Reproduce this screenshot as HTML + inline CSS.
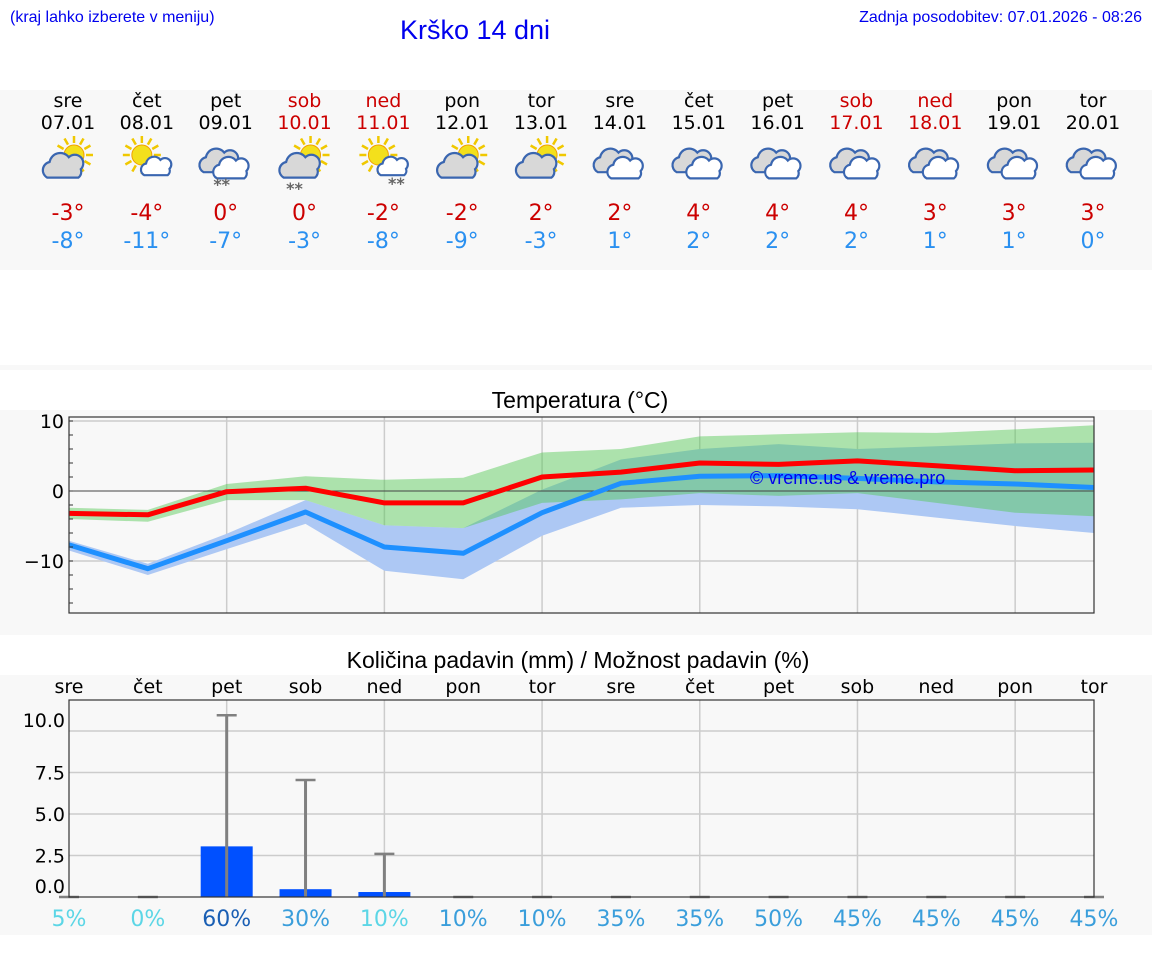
<!DOCTYPE html>
<html><head><meta charset="utf-8"><style>
body{margin:0;background:#fff;width:1152px;height:975px;overflow:hidden;font-family:"DejaVu Sans","Liberation Sans",sans-serif;}
svg{position:absolute;left:0;top:0}
</style></head><body>
<svg id="s" width="1152" height="975" xmlns="http://www.w3.org/2000/svg">
<text x="10" y="22" font-family="Liberation Sans,sans-serif" font-size="16" fill="#0000ee">(kraj lahko izberete v meniju)</text>
<text x="475" y="39" text-anchor="middle" font-family="Liberation Sans,sans-serif" font-size="27" fill="#0000ee">Krško 14 dni</text>
<text x="1142" y="22" text-anchor="end" font-family="Liberation Sans,sans-serif" font-size="16" fill="#0000ee">Zadnja posodobitev: 07.01.2026 - 08:26</text>
<rect x="0" y="90" width="1152" height="180" fill="#f8f8f8"/>
<rect x="0" y="365" width="1152" height="5" fill="#f8f8f8"/>
<rect x="0" y="410" width="1152" height="225" fill="#f8f8f8"/>
<rect x="0" y="675" width="1152" height="260" fill="#f8f8f8"/>
<text x="580" y="408" text-anchor="middle" font-size="23" font-family="Liberation Sans,sans-serif" fill="#000">Temperatura (°C)</text>
<text x="578" y="668" text-anchor="middle" font-size="23" font-family="Liberation Sans,sans-serif" fill="#000">Količina padavin (mm) / Možnost padavin (%)</text>
<g id="topg"></g><g id="temp"></g><g id="prec"></g>
</svg>
<script>
const days=["sre","čet","pet","sob","ned","pon","tor","sre","čet","pet","sob","ned","pon","tor"];
const dates=["07.01","08.01","09.01","10.01","11.01","12.01","13.01","14.01","15.01","16.01","17.01","18.01","19.01","20.01"];
const weekend=[0,0,0,1,1,0,0,0,0,0,1,1,0,0];
const icons=["sc","ss","cs","scs","sss","sc","sc","c","c","c","c","c","c","c"];
const dayMax=[-3,-4,0,0,-2,-2,2,2,4,4,4,3,3,3];
const dayMin=[-8,-11,-7,-3,-8,-9,-3,1,2,2,2,1,1,0];
const tMax=[-3.2,-3.4,-0.1,0.4,-1.7,-1.7,2.0,2.7,4.0,3.8,4.3,3.6,2.9,3.0];
const tMaxHi=[-2.4,-2.7,1.0,2.1,1.6,1.9,5.5,6.0,7.8,8.1,8.4,8.3,8.8,9.4];
const tMaxLo=[-4.0,-4.4,-1.3,-1.3,-4.9,-5.3,-1.7,-1.2,-0.3,-0.7,-0.3,-1.7,-3.1,-3.6];
const tMin=[-7.7,-11.1,-7.1,-3.0,-8.0,-8.9,-3.1,1.1,2.1,2.2,1.8,1.3,1.0,0.5];
const tMinHi=[-7.1,-10.4,-6.1,-1.3,-4.9,-5.3,0.2,4.5,6.0,6.7,6.0,6.4,6.8,6.9];
const tMinLo=[-8.5,-12.0,-8.3,-4.7,-11.4,-12.6,-6.4,-2.4,-2.0,-2.2,-2.6,-3.8,-5.0,-6.0];
const tempTicks=[10,0,-10];
const precip=[0,0,3.05,0.47,0.3,0,0,0,0,0,0,0,0,0];
const precipMax=[0,0,10.95,7.05,2.6,0,0,0,0,0,0,0,0,0];
const chance=[5,0,60,30,10,10,10,35,35,50,45,45,45,45];
const chanceColor=["#5cd6e6","#5cd6e6","#1a5fb4","#3a9edb","#5cd6e6","#3a9edb","#3a9edb","#3a9edb","#3a9edb","#3a9edb","#3a9edb","#3a9edb","#3a9edb","#3a9edb"];
const precipTicks=[10,7.5,5,2.5,0];

const NS="http://www.w3.org/2000/svg";
function mk(p,tag,attrs,txt){const e=document.createElementNS(NS,tag);for(const k in attrs)e.setAttribute(k,attrs[k]);if(txt!==undefined)e.textContent=txt;p.appendChild(e);return e;}
const X0=69,X1=1094;
const xAt=i=>X0+(X1-X0)*i/13;
const yT=v=>491-7*v;
const yP=v=>897-16.6*v;

// top panel
const topG=document.getElementById('topg');
function sun(g,cx,cy,r){for(let a=0;a<12;a++){const an=a*Math.PI/6;mk(g,'line',{x1:cx+Math.cos(an)*(r+2),y1:cy+Math.sin(an)*(r+2),x2:cx+Math.cos(an)*(r+9),y2:cy+Math.sin(an)*(r+9),stroke:'#f0c800','stroke-width':2.5});}
mk(g,'circle',{cx:cx,cy:cy,r:r,fill:'#f3e01c',stroke:'#f0a000','stroke-width':1});}
function cloud(g,cx,cy,s,fill){const d=`M${cx-14*s},${cy+8*s} a${7*s},${7*s} 0 0 1 ${2*s},${-13*s} a${9*s},${9*s} 0 0 1 ${16*s},${-4*s} a${7*s},${7*s} 0 0 1 ${10*s},${10*s} a${6*s},${6*s} 0 0 1 ${-2*s},${7*s} z`;
mk(g,'path',{d:d,fill:fill,stroke:'#3a66b0','stroke-width':2.2});}
function snow(g,cx,cy){mk(g,'text',{x:cx,y:cy,'font-size':16,fill:'#666','text-anchor':'middle','font-weight':'bold'},'**');}
for(let i=0;i<14;i++){const x=xAt(i)-1;const col=weekend[i]?'#cc0000':'#000';
const g=mk(topG,'g',{});


mk(g,'text',{x:x,y:107,'text-anchor':'middle','font-size':19,fill:col},days[i]);
mk(g,'text',{x:x,y:129,'text-anchor':'middle','font-size':19,fill:col},dates[i]);
const ic=mk(g,'g',{});


const t=icons[i];
if(t==='sc'||t==='scs'){sun(ic,x+6,155,10);cloud(ic,x-4,168,1.2,'#d8d8d8');if(t==='scs')snow(ic,x-10,194);}
else if(t==='ss'||t==='sss'){sun(ic,x-5,155,10);cloud(ic,x+10,168,0.9,'#fff');if(t==='sss')snow(ic,x+13,189);}
else {cloud(ic,x-6,163,1.15,'#d8d8d8');cloud(ic,x+6,170,1.05,'#fff');if(t==='cs')snow(ic,x-4,190);}
mk(g,'text',{x:x,y:220,'text-anchor':'middle','font-size':22,fill:'#cc0000'},dayMax[i]+'°');
mk(g,'text',{x:x,y:248,'text-anchor':'middle','font-size':22,fill:'#2a90f0'},dayMin[i]+'°');}

// temp chart
const tg=document.getElementById('temp');
const plot=mk(tg,'rect',{x:X0,y:417,width:X1-X0,height:196,fill:'#f8f8f8'});

for(const v of [-10,10]) mk(tg,'line',{x1:X0,x2:X1,y1:yT(v),y2:yT(v),stroke:'#ccc','stroke-width':1.5});
for(let i=2;i<14;i+=2) mk(tg,'line',{x1:xAt(i),x2:xAt(i),y1:417,y2:613,stroke:'#ccc','stroke-width':1.5});
function band(hi,lo,fill,name){let d='';hi.forEach((v,i)=>d+=(i?'L':'M')+xAt(i)+','+yT(v));for(let i=lo.length-1;i>=0;i--)d+='L'+xAt(i)+','+yT(lo[i]);
const p=mk(tg,'path',{d:d+'Z',fill:fill});}
band(tMinHi,tMinLo,'#adc8f4','min-temp-range');
band(tMaxHi,tMaxLo,'rgba(80,200,80,0.45)','max-temp-range');
mk(tg,'line',{x1:X0,x2:X1,y1:yT(0),y2:yT(0),stroke:'#444','stroke-width':1});
function line(arr,col,name){const p=mk(tg,'polyline',{points:arr.map((v,i)=>xAt(i)+','+yT(v)).join(' '),fill:'none',stroke:col,'stroke-width':5,'stroke-linejoin':'round'});}
line(tMin,'#1e90ff','min-temp-line');
line(tMax,'#ff0000','max-temp-line');
mk(tg,'text',{x:750,y:484,'font-size':18,fill:'#0000ee','font-family':'Liberation Sans,sans-serif'},'© vreme.us & vreme.pro');
mk(tg,'rect',{x:X0,y:417,width:X1-X0,height:196,fill:'none',stroke:'#333','stroke-width':1.2});
for(let v=-16;v<=10;v+=2) mk(tg,'line',{x1:X0,x2:X0+4,y1:yT(v),y2:yT(v),stroke:'#333'});
for(const v of tempTicks){const t=mk(tg,'text',{x:X0-5,y:yT(v)+7,'text-anchor':'end','font-size':19,fill:'#000'},v<0?'−'+(-v):String(v));}

// precip chart
const pg=document.getElementById('prec');
const pa=mk(pg,'rect',{x:X0,y:700,width:X1-X0,height:197,fill:'#f8f8f8'});

for(const v of precipTicks) if(v>0) mk(pg,'line',{x1:X0,x2:X1,y1:yP(v),y2:yP(v),stroke:'#ccc','stroke-width':1.5});
for(let i=2;i<14;i+=2) mk(pg,'line',{x1:xAt(i),x2:xAt(i),y1:700,y2:897,stroke:'#ccc','stroke-width':1.5});
for(let i=0;i<14;i++){const x=xAt(i);
if(precip[i]>0){const b=mk(pg,'rect',{x:x-26,y:yP(precip[i]),width:52,height:897-yP(precip[i]),fill:'#0050ff'});}
const e=mk(pg,'g',{});
mk(e,'line',{x1:x,x2:x,y1:yP(precipMax[i]),y2:897,stroke:'#808080','stroke-width':3});
mk(e,'line',{x1:x-10,x2:x+10,y1:yP(precipMax[i]),y2:yP(precipMax[i]),stroke:'#808080','stroke-width':2.5});
mk(pg,'text',{x:x,y:693,'text-anchor':'middle','font-size':19,fill:'#000'},days[i]);
const c=mk(pg,'text',{x:x,y:926,'text-anchor':'middle','font-size':22,fill:chanceColor[i]},chance[i]+'%');}
mk(pg,'rect',{x:X0,y:700,width:X1-X0,height:197,fill:'none',stroke:'#333','stroke-width':1.2});
for(const v of precipTicks){const t=mk(pg,'text',{x:X0-4,y:(v===0?yP(v)-4:v===10?yP(v)-4:yP(v)+7),'text-anchor':'end','font-size':19,fill:'#000'},v.toFixed(1));}
</script>
</body></html>
